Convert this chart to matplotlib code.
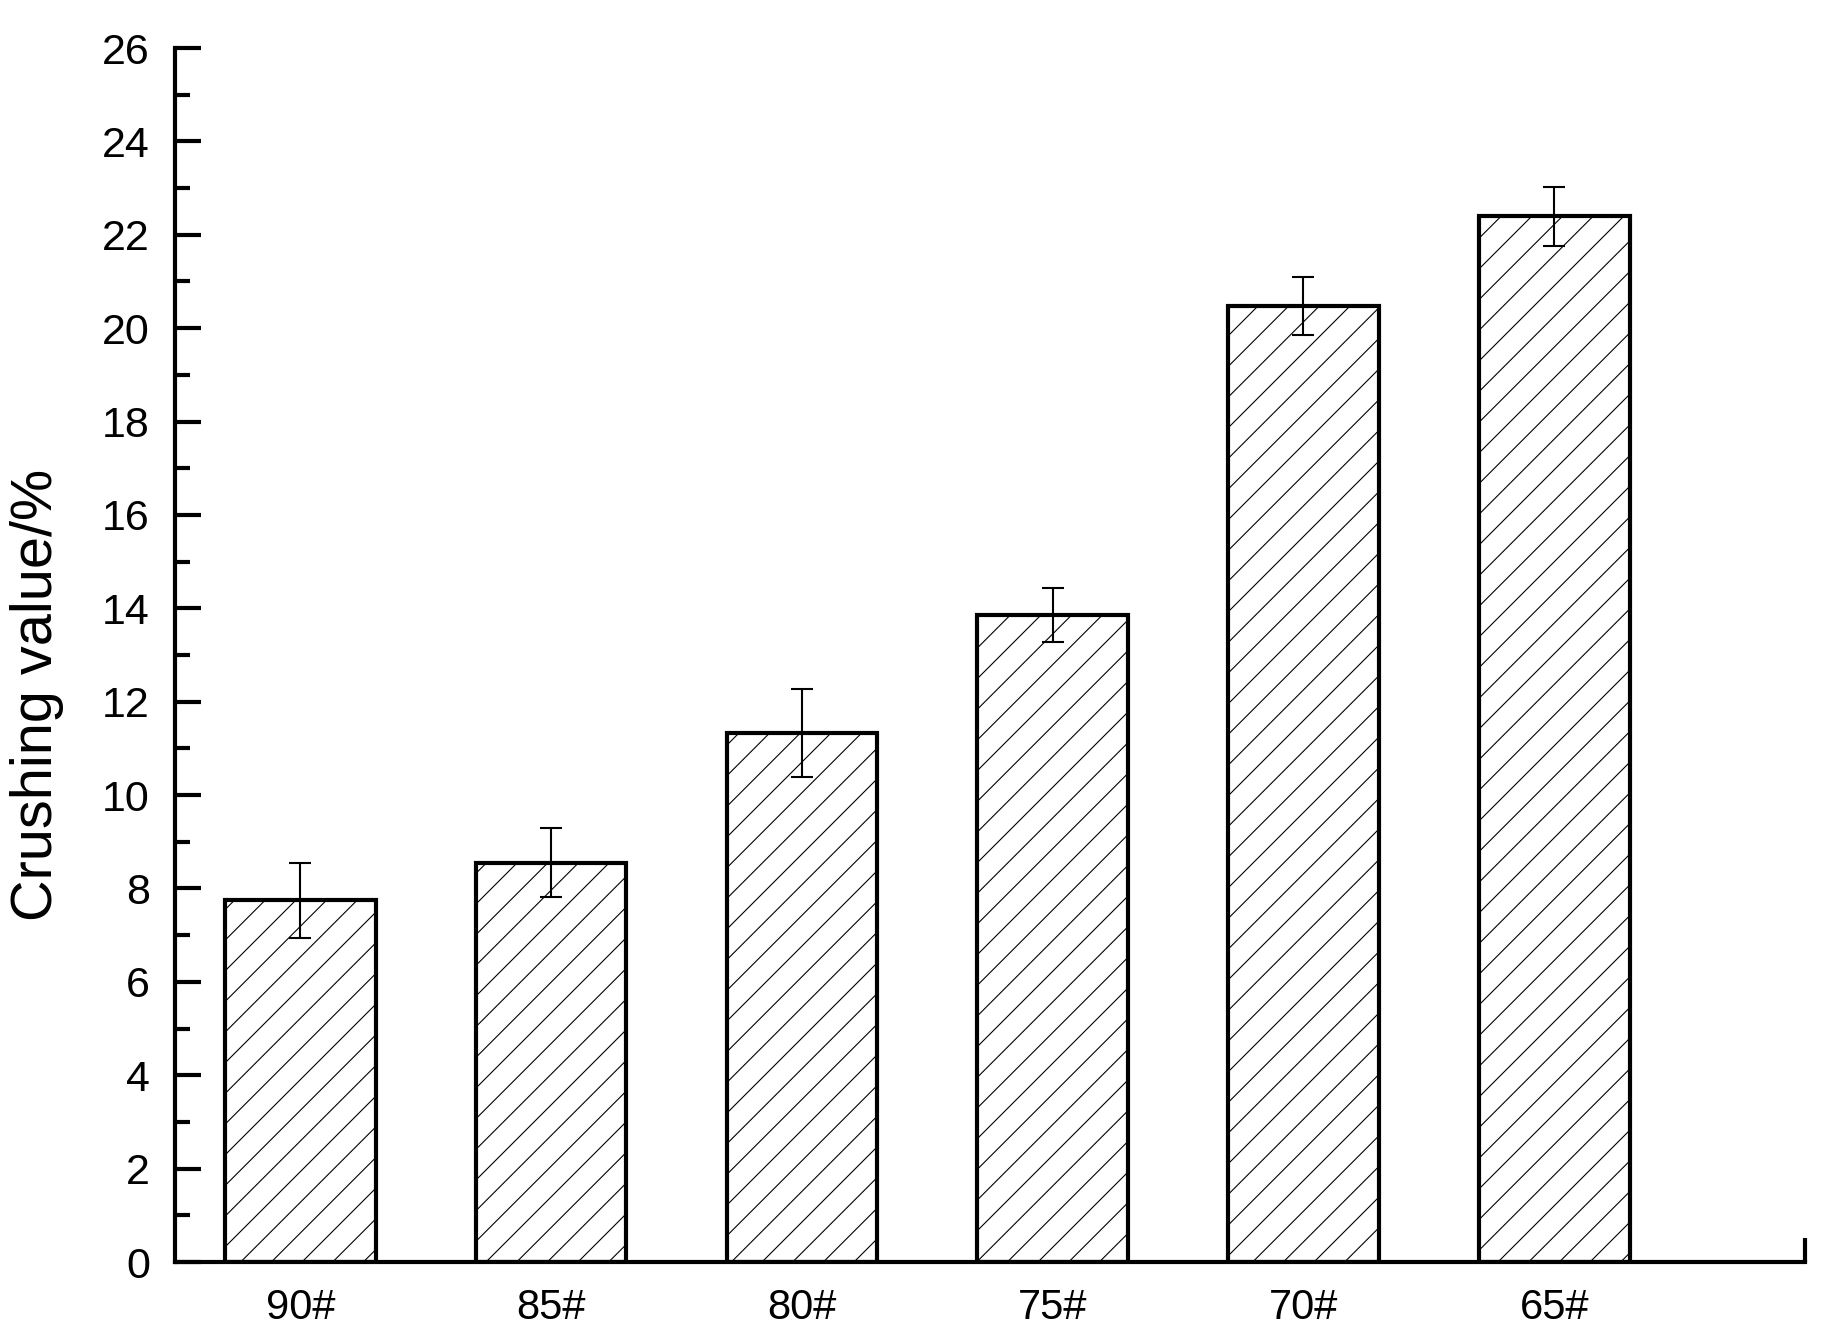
import matplotlib
matplotlib.use("Agg")
import matplotlib.pyplot as plt
from matplotlib.ticker import MultipleLocator, FixedLocator

DPI = 92  # hatch spacing follows dpi; 92 matches the reference hatch density
K = 100 / DPI  # keep point sizes as they looked at 100 dpi

plt.rcParams["font.family"] = ["Liberation Sans", "DejaVu Sans"]
plt.rcParams["hatch.linewidth"] = 0.8 * K

# data
grades = ["90#", "85#", "80#", "75#", "70#", "65#"]
crushing = [7.75, 8.55, 11.33, 13.85, 20.47, 22.40]
crushing_err = [0.80, 0.74, 0.95, 0.58, 0.62, 0.63]

fig = plt.figure(figsize=(1822 / DPI, 1341 / DPI), dpi=DPI)
ax = fig.add_axes([0.096, 0.0589, 0.8947, 0.9053])

xs = list(range(1, len(grades) + 1))
ax.bar(xs, crushing, width=0.6, color="white", edgecolor="black",
       linewidth=3.0 * K, hatch="/", zorder=2)
ax.errorbar(xs, crushing, yerr=crushing_err, fmt="none", ecolor="black",
            elinewidth=1.5 * K, capsize=8 * K, capthick=1.5 * K, zorder=3)

ax.set_xlim(0.5, 7.0)
ax.set_ylim(0, 26)

ax.yaxis.set_major_locator(MultipleLocator(2))
ax.yaxis.set_minor_locator(MultipleLocator(1))
# extra unlabeled tick closes the x axis on the right
ax.xaxis.set_major_locator(FixedLocator(xs + [7]))
ax.set_xticklabels(grades + [""])

for side in ("top", "right"):
    ax.spines[side].set_visible(False)
for side in ("left", "bottom"):
    ax.spines[side].set_linewidth(3.0 * K)

ax.tick_params(axis="y", which="major", direction="in", length=19 * K,
               width=3.0 * K, labelsize=31 * K, pad=18 * K)
ax.tick_params(axis="y", which="minor", direction="in", length=11 * K,
               width=3.0 * K)
ax.tick_params(axis="x", which="major", direction="in", length=17 * K,
               width=3.0 * K, labelsize=30 * K, pad=19 * K)

ax.set_ylabel("Crushing value/%", fontsize=41.5 * K)
ax.yaxis.set_label_coords(-0.068, 0.467)

fig.savefig("out.png", dpi=DPI)
